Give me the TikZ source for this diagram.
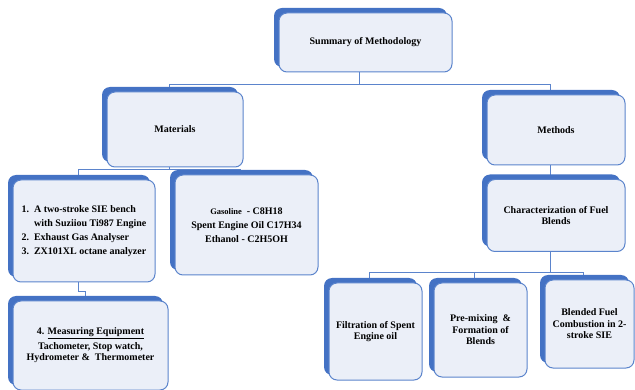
\documentclass[tikz,border=0pt]{standalone}
\usepackage{fontspec}
\setmainfont{Liberation Serif}
\usepackage{tikz}
\usetikzlibrary{shadows,backgrounds}
\definecolor{backblue}{HTML}{4472C4}
\definecolor{lineblue}{HTML}{5B84CC}
\definecolor{boxfill}{HTML}{EBEFF8}

\begin{document}
\begin{tikzpicture}[
    x=1pt, y=-1pt,
    box/.style={rectangle, draw=lineblue, fill=boxfill, line width=1pt, rounded corners=8pt, align=center, inner sep=2pt, font=\bfseries\fontsize{10}{11.5}\selectfont, general shadow={fill=backblue, shadow xshift=-5pt, shadow yshift=5pt}},
    link/.style={draw=lineblue, line width=1pt}
]
    \useasboundingbox (0,0) rectangle (635,390);

    \node [box, minimum width=173pt, minimum height=59pt] (sum) at (365.5,42.5) {Summary of Methodology};
    \node [box, minimum width=136pt, minimum height=75pt] (mat) at (175,129.5) {Materials};
    \node [box, minimum width=138pt, minimum height=70pt] (meth) at (556,130) {Methods};
    \node [box, minimum width=138pt, minimum height=72pt] (char) at (556,215.5) {Characterization of Fuel\\Blends};
    \node [box, align=left, minimum width=142pt, minimum height=102pt, font=\bfseries\fontsize{10}{14}\selectfont] (item) at (84,231)
        {1.~~A two-stroke SIE bench\\\phantom{1.~~}with Suziiou Ti987 Engine\\2.~~Exhaust Gas Analyser\\3.~~ZX101XL octane analyzer};
    \node [box, minimum width=143pt, minimum height=100pt, font=\bfseries\fontsize{10}{14}\selectfont] (gas) at (246.5,225)
        {{\fontsize{8.5}{14}\selectfont Gasoline}~ - C8H18\\Spent Engine Oil C17H34\\Ethanol - C2H5OH};
    \node [box, minimum width=155pt, minimum height=89pt] (meas) at (90.5,345.5)
        {4. \underline{Measuring Equipment}\\[3pt]Tachometer, Stop watch,\\Hydrometer \&~ Thermometer};
    \node [box, minimum width=93pt, minimum height=97pt] (filt) at (375.5,331.5) {Filtration of Spent\\Engine oil};
    \node [box, minimum width=93pt, minimum height=94pt] (mix) at (480.5,330) {Pre-mixing ~\&\\Formation of\\Blends};
    \node [box, minimum width=89pt, minimum height=88pt] (blend) at (589.5,324) {Blended Fuel\\Combustion in 2-\\stroke SIE};

    \begin{scope}[on background layer]
        \draw [link] ([xshift=-6pt]sum.south) -- ++(0,12) coordinate (j1);
        \draw [link] (j1) -| ([xshift=-6pt]mat.north);
        \draw [link] (j1) -| ([xshift=-6pt]meth.north);
        \draw [link] ([xshift=-6pt]mat.south) -- ++(0,2) coordinate (j2);
        \draw [link] (j2) -| ([xshift=-6pt]item.north);
        \draw [link] (j2) -| ([xshift=-6pt]gas.north);
        \draw [link] ([xshift=-6pt]item.south) -- ++(0,9) -| ([xshift=-5pt]meas.north);
        \draw [link] ([xshift=-6pt]meth.south) -- ([xshift=-6pt]char.north);
        \draw [link] ([xshift=-6pt]char.south) -- ++(0,21) coordinate (j3);
        \draw [link] (j3) -| ([xshift=-6pt]filt.north);
        \draw [link] (j3) -| ([xshift=-6pt]mix.north);
        \draw [link] (j3) -| ([xshift=-6pt]blend.north);
    \end{scope}
\end{tikzpicture}
\end{document}
